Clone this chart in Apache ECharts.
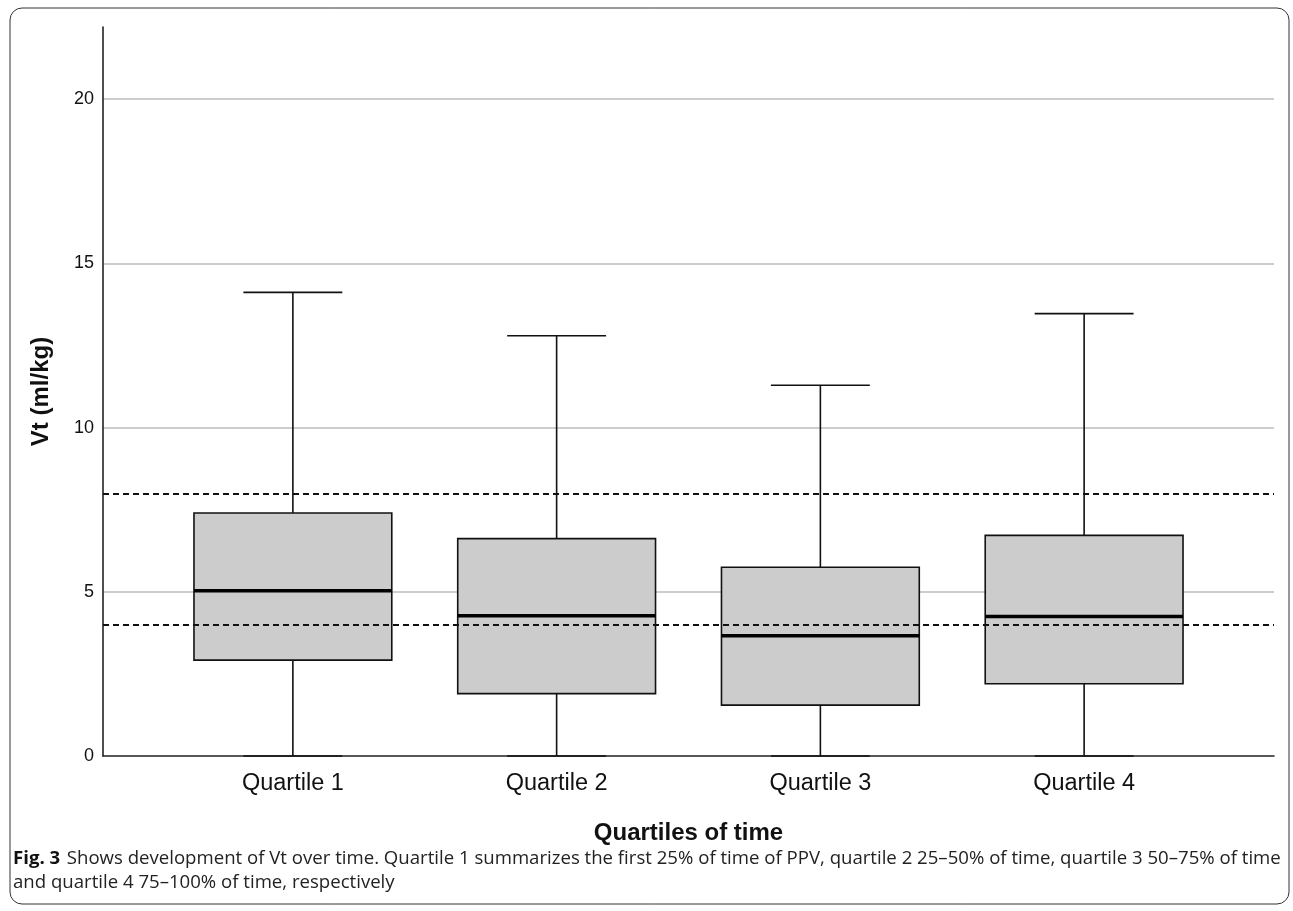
<!DOCTYPE html>
<html>
<head>
<meta charset="utf-8">
<script src="https://cdn.jsdelivr.net/npm/echarts@6/dist/echarts.min.js"></script>
<style>html,body{margin:0;padding:0;background:#fff}#c{width:1293px;height:911px}</style>
</head>
<body>
<div id="c"></div>
<script>
const categories = ['Quartile 1', 'Quartile 2', 'Quartile 3', 'Quartile 4'];
const whiskerLow = [0, 0, 0, 0];
const boxLow = [2.92, 1.9, 1.55, 2.2];
const medians = [5.03, 4.27, 3.66, 4.25];
const boxHigh = [7.4, 6.62, 5.75, 6.72];
const whiskerHigh = [14.12, 12.8, 11.29, 13.47];
const referenceLines = [8, 4];
const yTicks = [0, 5, 10, 15, 20];
const yMax = 22.2;

const boxData = categories.map((c, i) => [i, whiskerLow[i], boxLow[i], medians[i], boxHigh[i], whiskerHigh[i]]);

const chart = echarts.init(document.getElementById('c'), null, {renderer: 'canvas'});

function renderBox(params, api) {
  const idx = api.value(0);
  const band = api.size([1, 0])[0];
  const bw = band * 0.75;
  const cw = band * 0.375;
  const pLow = api.coord([idx, api.value(1)]);
  const pQ1 = api.coord([idx, api.value(2)]);
  const pMed = api.coord([idx, api.value(3)]);
  const pQ3 = api.coord([idx, api.value(4)]);
  const pHigh = api.coord([idx, api.value(5)]);
  const x = pMed[0];
  const lineStyle = {stroke: '#111', lineWidth: 1.6, fill: null};
  return {
    type: 'group',
    children: [
      {type: 'line', shape: {x1: x, y1: pHigh[1], x2: x, y2: pQ3[1]}, style: lineStyle},
      {type: 'line', shape: {x1: x, y1: pQ1[1], x2: x, y2: pLow[1]}, style: lineStyle},
      {type: 'line', shape: {x1: x - cw / 2, y1: pHigh[1], x2: x + cw / 2, y2: pHigh[1]}, style: lineStyle},
      {type: 'line', shape: {x1: x - cw / 2, y1: pLow[1], x2: x + cw / 2, y2: pLow[1]}, style: lineStyle},
      {type: 'rect', shape: {x: x - bw / 2, y: pQ3[1], width: bw, height: pQ1[1] - pQ3[1]},
        style: {fill: '#cccccc', stroke: '#111', lineWidth: 1.6}},
      {type: 'line', shape: {x1: x - bw / 2, y1: pMed[1], x2: x + bw / 2, y2: pMed[1]},
        style: {stroke: '#000', lineWidth: 3.5}}
    ]
  };
}

const axisFont = 'Liberation Sans, Arial, sans-serif';
const capFont = 'Open Sans, Noto Sans, sans-serif';

const option = {
  animation: false,
  backgroundColor: '#fff',
  grid: [
    {left: 103, right: 19, top: 27, bottom: 155},
    {left: 161, right: 77, top: 27, bottom: 155}
  ],
  xAxis: [
    {type: 'value', gridIndex: 0, min: 0, max: 1,
      axisLine: {show: true, lineStyle: {color: '#222', width: 1.6}},
      axisTick: {show: false}, axisLabel: {show: false}, splitLine: {show: false}},
    {type: 'category', gridIndex: 1, data: categories,
      axisLine: {show: false}, axisTick: {show: false},
      axisLabel: {color: '#111', fontSize: 23.5, fontFamily: axisFont, margin: 16},
      name: 'Quartiles of time', nameLocation: 'middle', nameGap: 65,
      nameTextStyle: {color: '#111', fontSize: 24, fontWeight: 'bold', fontFamily: axisFont}}
  ],
  yAxis: [
    {type: 'value', gridIndex: 0, min: 0, max: yMax, interval: 5,
      axisLine: {show: true, lineStyle: {color: '#222', width: 1.6}},
      axisTick: {show: false},
      axisLabel: {color: '#111', fontSize: 18, fontFamily: axisFont, margin: 9, showMaxLabel: false,
        formatter: v => yTicks.indexOf(v) >= 0 ? String(v) : ''},
      splitLine: {show: true, showMinLine: false, showMaxLine: false, lineStyle: {color: '#bdbdbd', width: 1.6}},
      name: 'Vt (ml/kg)', nameLocation: 'middle', nameGap: 50,
      nameTextStyle: {color: '#111', fontSize: 24, fontWeight: 'bold', fontFamily: axisFont}},
    {type: 'value', gridIndex: 1, min: 0, max: yMax, interval: 5, show: false}
  ],
  series: [
    {type: 'line', xAxisIndex: 0, yAxisIndex: 0, data: [], silent: true,
      markLine: {silent: true, symbol: 'none', label: {show: false},
        lineStyle: {color: '#111', type: [6, 4], width: 2},
        data: referenceLines.map(v => ({yAxis: v}))}},
    {type: 'custom', xAxisIndex: 1, yAxisIndex: 1, data: boxData, renderItem: renderBox,
      encode: {x: 0, y: [1, 2, 3, 4, 5]}}
  ],
  graphic: [
    {type: 'rect', shape: {x: 10, y: 8, width: 1279, height: 896, r: 12},
      style: {fill: null, stroke: '#333', lineWidth: 1}, silent: true, z: -1},
    {type: 'text', left: 13, top: 847,
      style: {
        text: '{b|Fig. 3}  {n|Shows development of Vt over time. Quartile 1 summarizes the first 25% of time of PPV, quartile 2 25–50% of time, quartile 3 50–75% of time}\n{n|and quartile 4 75–100% of time, respectively}',
        lineHeight: 24,
        rich: {
          b: {fontFamily: capFont, fontWeight: 'bold', fontSize: 18.6, fill: '#111', lineHeight: 24},
          n: {fontFamily: capFont, fontSize: 18.6, fill: '#222', lineHeight: 24}
        }
      }}
  ]
};
chart.setOption(option);
</script>
</body>
</html>
